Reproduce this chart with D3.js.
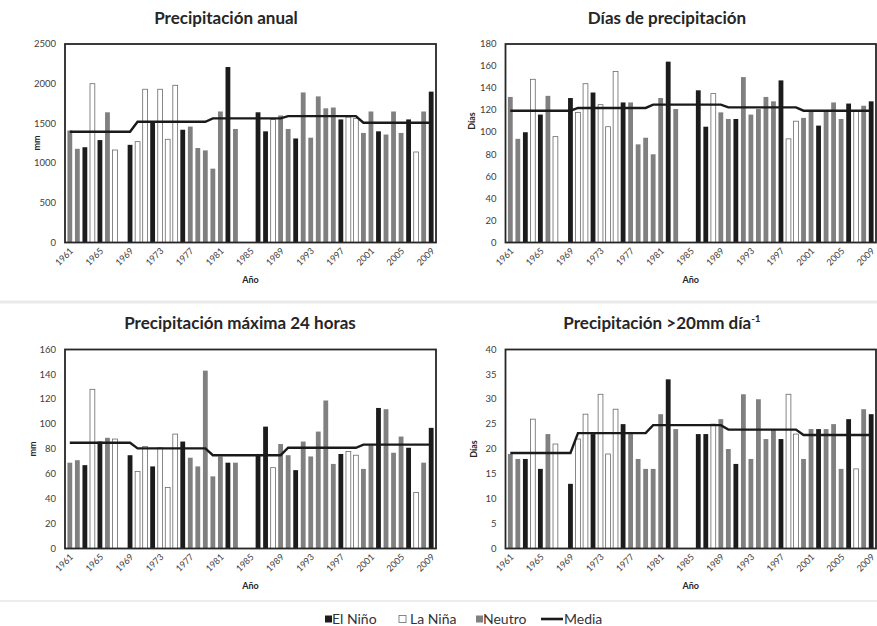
<!DOCTYPE html>
<html>
<head>
<meta charset="utf-8">
<script src="https://cdn.jsdelivr.net/npm/d3@7"></script>
<style>
	body { margin: 0; background: #fff; }
	svg { display: block; font-family: Lato, 'Open Sans', sans-serif; }
</style>
</head>
<body>
<svg id="chart" width="877" height="626"></svg>
<script>
/* global d3 */

// Años (categorías)
var years = [1961, 1962, 1963, 1964, 1965, 1966, 1967, 1968, 1969, 1970,
	1971, 1972, 1973, 1974, 1975, 1976, 1977, 1978, 1979, 1980,
	1981, 1982, 1983, 1984, 1985, 1986, 1987, 1988, 1989, 1990,
	1991, 1992, 1993, 1994, 1995, 1996, 1997, 1998, 1999, 2000,
	2001, 2002, 2003, 2004, 2005, 2006, 2007, 2008, 2009];

// Fase ENSO por año: E = El Niño, L = La Niña, N = Neutro, null = sin dato
var fase = ['N', 'N', 'E', 'L', 'E', 'N', 'L', null, 'E', 'L',
	'L', 'E', 'L', 'L', 'L', 'E', 'N', 'N', 'N', 'N',
	'N', 'E', 'N', null, null, 'E', 'E', 'L', 'N', 'N',
	'E', 'N', 'N', 'N', 'N', 'N', 'E', 'L', 'L', 'N',
	'N', 'E', 'N', 'N', 'N', 'E', 'L', 'N', 'E'];

var precipAnual = [1410, 1180, 1200, 2000, 1290, 1640, 1165, null, 1230, 1270,
	1930, 1520, 1930, 1300, 1980, 1420, 1460, 1190, 1160, 930,
	1650, 2210, 1430, null, null, 1640, 1400, 1550, 1600, 1430,
	1310, 1890, 1320, 1840, 1690, 1700, 1550, 1580, 1560, 1380,
	1650, 1400, 1360, 1650, 1380, 1550, 1140, 1650, 1900];
var mediaAnual = [1395, 1395, 1395, 1395, 1395, 1395, 1395, 1395, 1395, 1521,
	1521, 1521, 1521, 1521, 1521, 1521, 1521, 1521, 1521, 1563,
	1563, 1563, 1563, 1563, 1563, 1563, 1563, 1563, 1563, 1592,
	1592, 1592, 1592, 1592, 1592, 1592, 1592, 1592, 1592, 1508,
	1508, 1508, 1508, 1508, 1508, 1508, 1508, 1508, 1508];

var diasPrecip = [132, 94, 100, 148, 116, 133, 96, null, 131, 118,
	144, 136, 125, 105, 155, 127, 127, 89, 95, 80,
	131, 164, 121, null, null, 138, 105, 135, 118, 112,
	112, 150, 116, 121, 132, 128, 147, 94, 110, 113,
	119, 106, 119, 127, 112, 126, 119, 124, 128];
var mediaDias = [119.5, 119.5, 119.5, 119.5, 119.5, 119.5, 119.5, 119.5, 119.5, 122,
	122, 122, 122, 122, 122, 122, 122, 122, 122, 125,
	125, 125, 125, 125, 125, 125, 125, 125, 125, 122.5,
	122.5, 122.5, 122.5, 122.5, 122.5, 122.5, 122.5, 122.5, 122.5, 119.5,
	119.5, 119.5, 119.5, 119.5, 119.5, 119.5, 119.5, 119.5, 119.5];

var precipMax24 = [69, 71, 67, 128, 86, 89, 88, null, 75, 62,
	82, 66, 81, 49, 92, 86, 73, 66, 143, 58,
	74, 69, 69, null, null, 76, 98, 65, 84, 75,
	63, 86, 74, 94, 119, 68, 76, 78, 75, 64,
	83, 113, 112, 77, 90, 81, 45, 69, 97];
var mediaMax24 = [85, 85, 85, 85, 85, 85, 85, 85, 85, 80.5,
	80.5, 80.5, 80.5, 80.5, 80.5, 80.5, 80.5, 80.5, 80.5, 75,
	75, 75, 75, 75, 75, 75, 75, 75, 75, 81,
	81, 81, 81, 81, 81, 81, 81, 81, 81, 83.5,
	83.5, 83.5, 83.5, 83.5, 83.5, 83.5, 83.5, 83.5, 83.5];

var dias20mm = [19, 18, 18, 26, 16, 23, 21, null, 13, 22,
	27, 23, 31, 19, 28, 25, 23, 18, 16, 16,
	27, 34, 24, null, null, 23, 23, 25, 26, 20,
	17, 31, 18, 30, 22, 24, 22, 31, 23, 18,
	24, 24, 24, 25, 16, 26, 16, 28, 27];
var media20mm = [19.2, 19.2, 19.2, 19.2, 19.2, 19.2, 19.2, 19.2, 19.2, 23.2,
	23.2, 23.2, 23.2, 23.2, 23.2, 23.2, 23.2, 23.2, 23.2, 24.8,
	24.8, 24.8, 24.8, 24.8, 24.8, 24.8, 24.8, 24.8, 24.8, 23.9,
	23.9, 23.9, 23.9, 23.9, 23.9, 23.9, 23.9, 23.9, 23.9, 22.8,
	22.8, 22.8, 22.8, 22.8, 22.8, 22.8, 22.8, 22.8, 22.8];

var faseNombres = ['El Niño', 'La Niña', 'Neutro'];

var colores = {E: '#1c1c1c', L: '#ffffff', N: '#808080'};

var svg = d3.select('#chart');

// líneas grises suaves entre los gráficos
svg.append('line').attr('x1', 0).attr('x2', 877).attr('y1', 302).attr('y2', 302)
	.attr('stroke', '#e9e9e9').attr('stroke-width', 3);
svg.append('line').attr('x1', 0).attr('x2', 877).attr('y1', 601).attr('y2', 601)
	.attr('stroke', '#ededed').attr('stroke-width', 2);

var paneles = [
	{titulo: 'Precipitación anual', valores: precipAnual, media: mediaAnual, max: 2500, paso: 500, eje: 'mm',
		x0: 65, x1: 436, y0: 44, y1: 242.5, tx: 226, ty: 24, ex: 40, ey: 143},
	{titulo: 'Días de precipitación', valores: diasPrecip, media: mediaDias, max: 180, paso: 20, eje: 'Días',
		x0: 505.5, x1: 876, y0: 44, y1: 242.5, tx: 667, ty: 24, ex: 475, ey: 121},
	{titulo: 'Precipitación máxima 24 horas', valores: precipMax24, media: mediaMax24, max: 160, paso: 20, eje: 'mm',
		x0: 65, x1: 436, y0: 349.5, y1: 548.5, tx: 240, ty: 329, ex: 36, ey: 449},
	{titulo: 'Precipitación >20mm día', sup: '-1', valores: dias20mm, media: media20mm, max: 40, paso: 5, eje: 'Días',
		x0: 505.5, x1: 876, y0: 349.5, y1: 548.5, tx: 662, ty: 329, ex: 477, ey: 449}
];

paneles.forEach(function (p) {
	var g = svg.append('g');
	var x = d3.scaleBand().domain(years).range([p.x0, p.x1]).paddingInner(0.36).paddingOuter(0.32);
	var y = d3.scaleLinear().domain([0, p.max]).range([p.y1, p.y0]);

	// título
	var t = g.append('text').attr('x', p.tx).attr('y', p.ty).attr('text-anchor', 'middle')
		.attr('font-size', 17).attr('font-weight', 'bold').attr('fill', '#262626').text(p.titulo);
	if (p.sup) {
		t.append('tspan').attr('font-size', 10).attr('dy', -7).text(p.sup);
	}

	// barras
	var datos = years.map(function (a, i) { return {a: a, v: p.valores[i], f: fase[i]}; })
		.filter(function (d) { return d.v !== null; });
	g.selectAll('rect.barra').data(datos).enter().append('rect')
		.attr('class', 'barra')
		.attr('x', function (d) { return x(d.a); })
		.attr('y', function (d) { return y(d.v); })
		.attr('width', x.bandwidth())
		.attr('height', function (d) { return y(0) - y(d.v); })
		.attr('fill', function (d) { return colores[d.f]; })
		.attr('stroke', function (d) { return d.f === 'L' ? '#6a6a6a' : 'none'; })
		.attr('stroke-width', 0.8);

	// media
	var linea = d3.line()
		.x(function (d, i) { return x(years[i]) + x.bandwidth() / 2; })
		.y(function (d) { return y(d); });
	g.append('path').attr('d', linea(p.media)).attr('fill', 'none')
		.attr('stroke', '#1a1a1a').attr('stroke-width', 2.4);

	// marco del área de trazado
	g.append('rect').attr('x', p.x0).attr('y', p.y0)
		.attr('width', p.x1 - p.x0).attr('height', p.y1 - p.y0)
		.attr('fill', 'none').attr('stroke', '#262626').attr('stroke-width', 1.8);

	// eje y
	g.selectAll('text.ytick').data(d3.range(0, p.max + 1, p.paso)).enter().append('text')
		.attr('class', 'ytick')
		.attr('x', p.x0 - 9).attr('y', function (d) { return y(d); }).attr('dy', '0.34em')
		.attr('text-anchor', 'end').attr('font-size', 9.5).attr('fill', '#404040')
		.text(function (d) { return d; });
	g.append('text').attr('transform', 'translate(' + p.ex + ',' + p.ey + ') rotate(-90)')
		.attr('text-anchor', 'middle').attr('font-size', 9).attr('font-weight', 'bold').attr('fill', '#262626')
		.text(p.eje);

	// eje x
	g.selectAll('text.xtick').data(years.filter(function (a, i) { return i % 4 === 0; })).enter().append('text')
		.attr('class', 'xtick')
		.attr('transform', function (d) {
			return 'translate(' + (x(d) + x.bandwidth() / 2 + 4) + ',' + (p.y1 + 9) + ') rotate(-45)';
		})
		.attr('text-anchor', 'end').attr('font-size', 9).attr('fill', '#404040')
		.text(function (d) { return d; });
	g.append('text').attr('x', (p.x0 + p.x1) / 2).attr('y', p.y1 + 40)
		.attr('text-anchor', 'middle').attr('font-size', 9).attr('font-weight', 'bold').attr('fill', '#262626')
		.text('Año');
});

// leyenda
var ley = svg.append('g').attr('font-size', 14).attr('fill', '#333');
var posLey = [325, 399, 476];
['E', 'L', 'N'].forEach(function (f, i) {
	ley.append('rect').attr('x', posLey[i]).attr('y', 615.5).attr('width', 7).attr('height', 7)
		.attr('fill', colores[f]).attr('stroke', f === 'L' ? '#6a6a6a' : 'none').attr('stroke-width', 0.8);
	ley.append('text').attr('x', posLey[i] + (f === 'L' ? 11 : 7)).attr('y', 624).text(faseNombres[i]);
});
ley.append('line').attr('x1', 541).attr('x2', 563).attr('y1', 619).attr('y2', 619)
	.attr('stroke', '#1a1a1a').attr('stroke-width', 2.6);
ley.append('text').attr('x', 564).attr('y', 624).text('Media');
</script>
</body>
</html>
